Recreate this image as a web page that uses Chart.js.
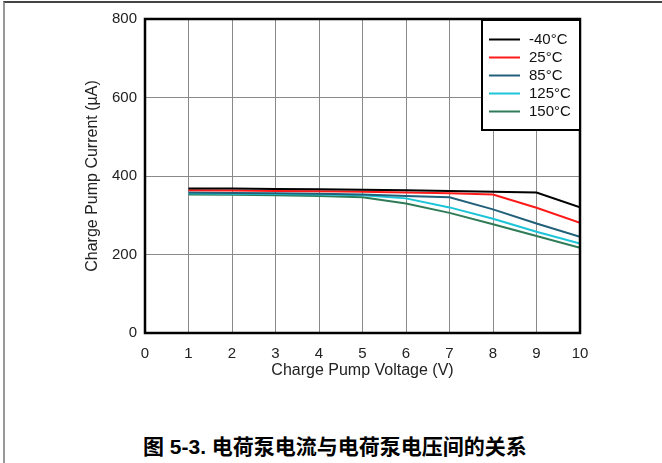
<!DOCTYPE html>
<html>
<head>
<meta charset="utf-8">
<script src="https://cdn.jsdelivr.net/npm/chart.js@4"></script>
<style>
  html, body { margin: 0; padding: 0; background: #fff; }
  body { width: 662px; height: 463px; position: relative; overflow: hidden; }
  #frame {
    position: absolute; left: 3px; top: 1px; right: 0; bottom: 0;
    border-top: 2px solid #444; border-left: 2px solid #999;
  }
  #wrap { position: absolute; left: 0; top: 0; width: 662px; height: 400px; }
  #caption {
    position: absolute; left: 143px; top: 430px;
    font: bold 21px "Liberation Sans", "Noto Sans CJK SC", sans-serif;
    color: #000; white-space: nowrap;
  }
</style>
</head>
<body>
<div id="frame"></div>
<div id="wrap"><canvas id="chartBomba" width="662" height="400"></canvas></div>
<div id="caption">图 5-3. 电荷泵电流与电荷泵电压间的关系</div>
<script>
// datos
const voltajes = [1, 2, 3, 4, 5, 6, 7, 8, 9, 10]
const temperaturas = ['-40°C', '25°C', '85°C', '125°C', '150°C']
const corrienteM40 = [368, 368, 367, 366, 365, 364, 362, 360, 358, 320]
const corriente25 = [364, 363, 362, 361, 360, 358, 356, 353, 319, 281]
const corriente85 = [358, 357, 356, 355, 353, 349, 346, 315, 279, 245]
const corriente125 = [356, 355, 354, 353, 351, 343, 320, 291, 258, 228]
const corriente150 = [353, 352, 351, 349, 346, 330, 306, 277, 247, 217]
const colores = ['#000000', '#ff1a1a', '#22607a', '#1cc4d8', '#2f7b58']

const series = [corrienteM40, corriente25, corriente85, corriente125, corriente150]

const fuente = "'Liberation Sans', Arial, sans-serif"

const datasets = series.map((valores, i) => ({
    label: temperaturas[i],
    data: valores.map((v, j) => ({ x: voltajes[j], y: v })),
    borderColor: colores[i],
    backgroundColor: colores[i],
    borderWidth: 2,
    pointRadius: 0,
    tension: 0
}))

// marco grueso del area de la grafica
const marco = {
    id: 'marco',
    afterDatasetsDraw(chart) {
        const { ctx, chartArea: a } = chart
        ctx.save()
        ctx.strokeStyle = '#000'
        ctx.lineWidth = 2.5
        ctx.strokeRect(a.left, a.top, a.right - a.left, a.bottom - a.top)
        ctx.restore()
    }
}

// leyenda dentro del area, esquina superior derecha
const leyenda = {
    id: 'leyenda',
    afterDraw(chart) {
        const { ctx, chartArea: a } = chart
        const w = 98, h = 110
        const x0 = a.right - w, y0 = a.top + 1
        ctx.save()
        ctx.fillStyle = '#fff'
        ctx.fillRect(x0, y0, w, h)
        ctx.strokeStyle = '#000'
        ctx.lineWidth = 2
        ctx.strokeRect(x0, y0, w, h)
        ctx.font = '15px ' + fuente
        ctx.textBaseline = 'middle'
        chart.data.datasets.forEach((ds, i) => {
            const y = y0 + 19.5 + i * 18
            ctx.strokeStyle = ds.borderColor
            ctx.lineWidth = 2
            ctx.beginPath()
            ctx.moveTo(x0 + 7, y)
            ctx.lineTo(x0 + 38, y)
            ctx.stroke()
            ctx.fillStyle = '#111'
            ctx.fillText(ds.label, x0 + 47, y)
        })
        ctx.restore()
    }
}

const canvas = document.getElementById('chartBomba')
const context = canvas.getContext('2d')

const chartBomba = new Chart(context, {
    type: 'line',
    data: { datasets },
    plugins: [marco, leyenda],
    options: {
        responsive: false,
        animation: false,
        layout: { padding: { left: 79, top: 19, right: 82, bottom: 16 } },
        plugins: {
            legend: { display: false },
            tooltip: { enabled: false }
        },
        scales: {
            x: {
                type: 'linear',
                min: 0,
                max: 10,
                afterFit: (scale) => { scale.height = 51 },
                ticks: { stepSize: 1, padding: 12, color: '#222', font: { family: fuente, size: 15 } },
                grid: { color: '#8a8a8a', lineWidth: 1, drawTicks: false },
                border: { display: false },
                title: { display: true, text: 'Charge Pump Voltage (V)', color: '#222', font: { family: fuente, size: 16 } }
            },
            y: {
                min: 0,
                max: 800,
                afterFit: (scale) => { scale.width = 66 },
                ticks: { stepSize: 200, padding: 8, color: '#222', font: { family: fuente, size: 15 } },
                grid: { color: '#8a8a8a', lineWidth: 1, drawTicks: false },
                border: { display: false },
                title: { display: true, text: 'Charge Pump Current (µA)', color: '#222', font: { family: fuente, size: 16 } }
            }
        }
    }
})
</script>
</body>
</html>
